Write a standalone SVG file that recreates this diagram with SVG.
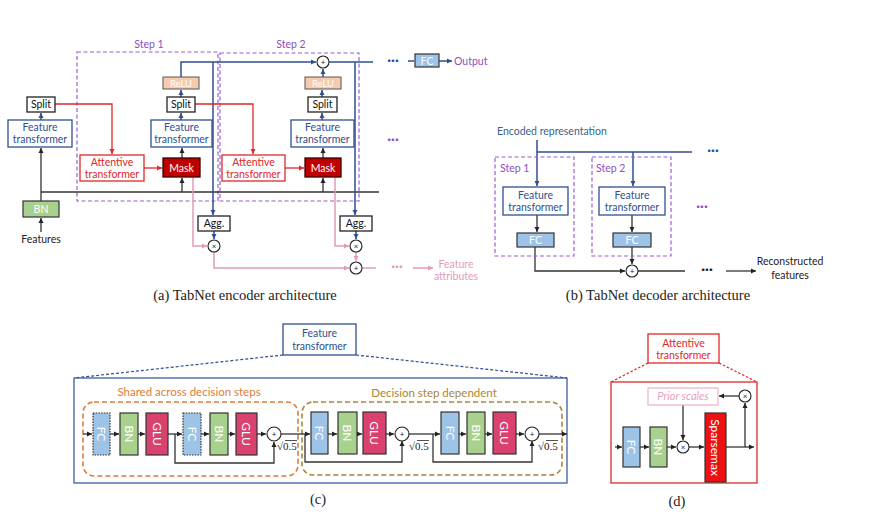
<svg xmlns="http://www.w3.org/2000/svg" width="871" height="519" viewBox="0 0 871 519">
<defs>
<marker id="ak" markerWidth="6" markerHeight="6" refX="5" refY="3" orient="auto" markerUnits="userSpaceOnUse"><path d="M0,0.5 L5,3 L0,5.5 Z" fill="#222"/></marker>
<marker id="ab" markerWidth="6" markerHeight="6" refX="5" refY="3" orient="auto" markerUnits="userSpaceOnUse"><path d="M0,0.5 L5,3 L0,5.5 Z" fill="#2f4f8f"/></marker>
<marker id="ar" markerWidth="6" markerHeight="6" refX="5" refY="3" orient="auto" markerUnits="userSpaceOnUse"><path d="M0,0.5 L5,3 L0,5.5 Z" fill="#e02828"/></marker>
<marker id="ap" markerWidth="6" markerHeight="6" refX="5" refY="3" orient="auto" markerUnits="userSpaceOnUse"><path d="M0,0.5 L5,3 L0,5.5 Z" fill="#e59abb"/></marker>
</defs>
<style>
text{font-family:Lato,"Liberation Sans",sans-serif;font-size:10.5px;}
.c{text-anchor:middle;}
.ft{fill:#fff;stroke:#2f4f8f;stroke-width:1.3;}
.ftt{fill:#2f4f8f;text-anchor:middle;}
.wb{fill:#fff;stroke:#222;stroke-width:1.3;}
.at{fill:#fff;stroke:#e02828;stroke-width:1.3;}
.att{fill:#e02828;text-anchor:middle;}
.mask{fill:#c00000;stroke:#3a0000;stroke-width:1.3;}
.relu{fill:#f8cbad;stroke:#555;stroke-width:1;}
.bn{fill:#a9d18e;stroke:#333;stroke-width:1.2;}
.fc{fill:#9dc3e6;stroke:#333;stroke-width:1.2;}
.fcd{fill:#9dc3e6;stroke:#333;stroke-width:1.2;stroke-dasharray:1.5 1.2;}
.glu{fill:#d9416f;stroke:#333;stroke-width:1.2;}
.sp{fill:#ee1111;stroke:#333;stroke-width:1.2;}
.wt{fill:#fff;text-anchor:middle;dominant-baseline:central;}
.wr{fill:#fff;text-anchor:middle;dominant-baseline:central;font-size:12px;}
.step{fill:none;stroke:#9a5fd0;stroke-width:1.2;stroke-dasharray:4 2.5;}
.stept{fill:#8a4fc4;}
.lk{fill:none;stroke:#333;stroke-width:1.3;}
.lb{fill:none;stroke:#2f4f8f;stroke-width:1.5;}
.lr{fill:none;stroke:#e02828;stroke-width:1.3;}
.lp{fill:none;stroke:#e59abb;stroke-width:1.5;}
.op{fill:#fff;stroke:#222;stroke-width:1.1;}
.ops{font-size:8px;text-anchor:middle;dominant-baseline:central;fill:#222;}
.cap{font-family:"Liberation Serif",serif;font-size:14.5px;fill:#222;text-anchor:middle;}
.sq{font-family:"Liberation Serif",serif;font-size:11px;fill:#222;}
.dots{font-size:14px;font-weight:bold;text-anchor:middle;}
</style>

<!-- ===== (a) Encoder ===== -->
<g id="step1-box"><rect class="step" x="77" y="52" width="141" height="149"/><text class="stept c" x="149" y="48">Step 1</text></g>
<g id="step2-box"><rect class="step" x="220" y="53" width="139" height="148"/><text class="stept c" x="291" y="48">Step 2</text></g>

<g id="enc-connectors">
<path class="lk" d="M41,192 H379"/>
<path class="lk" d="M41,232 V218" marker-end="url(#ak)"/>
<path class="lk" d="M41,201 V148" marker-end="url(#ak)"/>
<path class="lb" d="M41,120 V113" marker-end="url(#ab)"/>
<path class="lr" d="M55,104 H112 V154" marker-end="url(#ar)"/>
<path class="lr" d="M144,168 H162" marker-end="url(#ar)"/>
<path class="lk" d="M182,192 V178" marker-end="url(#ak)"/>
<path class="lk" d="M182,158 V148" marker-end="url(#ak)"/>
<path class="lb" d="M181,120 V113" marker-end="url(#ab)"/>
<path class="lb" d="M181,97 V90" marker-end="url(#ab)"/>
<path class="lb" d="M181,77 V62 H316" marker-end="url(#ab)"/>
<path class="lb" d="M213,62 V215" marker-end="url(#ab)"/>
<path class="lb" d="M214,231 V239" marker-end="url(#ab)"/>
<path class="lp" d="M193,177 V246 H207" marker-end="url(#ap)"/>
<path class="lp" d="M214,252 V268 H349" marker-end="url(#ap)"/>
<path class="lr" d="M195,104 H253 V154" marker-end="url(#ar)"/>
<path class="lr" d="M285,168 H304" marker-end="url(#ar)"/>
<path class="lk" d="M323,192 V178" marker-end="url(#ak)"/>
<path class="lk" d="M323,158 V148" marker-end="url(#ak)"/>
<path class="lb" d="M322,120 V113" marker-end="url(#ab)"/>
<path class="lb" d="M322,97 V90" marker-end="url(#ab)"/>
<path class="lb" d="M323,77 V69" marker-end="url(#ab)"/>
<path class="lb" d="M329,62 H373"/>
<path class="lb" d="M355,62 V215" marker-end="url(#ab)"/>
<path class="lb" d="M356,231 V239" marker-end="url(#ab)"/>
<path class="lp" d="M335,177 V246 H349" marker-end="url(#ap)"/>
<path class="lp" d="M356,252 V261" marker-end="url(#ap)"/>
<path class="lp" d="M362,268 H376"/>
<path class="lp" d="M413,268 H433" marker-end="url(#ap)"/>
<path class="lb" d="M408,61 H414"/>
<path class="lb" d="M439,61 H452" marker-end="url(#ab)"/>
</g>

<g id="features"><text class="c" x="41" y="243" fill="#222">Features</text></g>
<g id="bn0"><rect class="bn" x="23" y="201" width="36" height="16"/><text class="wt" x="41" y="209">BN</text></g>
<g id="ft0"><rect class="ft" x="8" y="120" width="64" height="27"/><text class="ftt" x="40" y="131">Feature</text><text class="ftt" x="40" y="143">transformer</text></g>
<g id="split0"><rect class="wb" x="27" y="97" width="28" height="15"/><text class="c" x="41" y="108" fill="#111">Split</text></g>

<g id="att1"><rect class="at" x="80" y="155" width="64" height="26"/><text class="att" x="112" y="166">Attentive</text><text class="att" x="112" y="178">transformer</text></g>
<g id="mask1"><rect class="mask" x="163" y="158" width="37" height="19"/><text class="wt" x="181.5" y="167.5">Mask</text></g>
<g id="ft1"><rect class="ft" x="151" y="120" width="61" height="27"/><text class="ftt" x="181.5" y="131">Feature</text><text class="ftt" x="181.5" y="143">transformer</text></g>
<g id="split1"><rect class="wb" x="167" y="97" width="28" height="15"/><text class="c" x="181" y="108" fill="#111">Split</text></g>
<g id="relu1"><rect class="relu" x="163" y="77" width="36" height="12"/><text class="wt" x="181" y="83" style="font-size:9.5px">ReLU</text></g>
<g id="agg1"><rect class="wb" x="198" y="216" width="32" height="15"/><text class="c" x="214" y="227" fill="#111">Agg.</text></g>
<g id="mul1"><circle class="op" cx="214" cy="246" r="6"/><text class="ops" x="214" y="246">×</text></g>

<g id="att2"><rect class="at" x="222" y="155" width="63" height="26"/><text class="att" x="253.5" y="166">Attentive</text><text class="att" x="253.5" y="178">transformer</text></g>
<g id="mask2"><rect class="mask" x="305" y="158" width="36" height="19"/><text class="wt" x="323" y="167.5">Mask</text></g>
<g id="ft2"><rect class="ft" x="291" y="120" width="63" height="27"/><text class="ftt" x="322.5" y="131">Feature</text><text class="ftt" x="322.5" y="143">transformer</text></g>
<g id="split2"><rect class="wb" x="308" y="97" width="29" height="15"/><text class="c" x="322.5" y="108" fill="#111">Split</text></g>
<g id="relu2"><rect class="relu" x="305" y="77" width="36" height="12"/><text class="wt" x="323" y="83" style="font-size:9.5px">ReLU</text></g>
<g id="add-top"><circle class="op" cx="323" cy="62" r="6"/><text class="ops" x="323" y="62">+</text></g>
<g id="agg2"><rect class="wb" x="340" y="216" width="32" height="15"/><text class="c" x="356" y="227" fill="#111">Agg.</text></g>
<g id="mul2"><circle class="op" cx="356" cy="246" r="6"/><text class="ops" x="356" y="246">×</text></g>
<g id="add-bot"><circle class="op" cx="356" cy="268" r="6"/><text class="ops" x="356" y="268">+</text></g>

<g id="enc-dots">
<text class="dots" x="393" y="65" fill="#2f4f8f">···</text>
<text class="dots" x="393" y="144" fill="#8a4fc4">···</text>
<text class="dots" x="397" y="271" fill="#e59abb">···</text>
</g>
<g id="fc-out"><rect class="fc" x="415" y="54" width="24" height="13"/><text class="wt" x="427" y="60.5">FC</text></g>
<g id="output"><text x="454" y="65" fill="#8a4fc4">Output</text></g>
<g id="feat-attr"><text class="c" x="456" y="268" fill="#e59abb">Feature</text><text class="c" x="456" y="280" fill="#e59abb">attributes</text></g>
<text class="cap" x="245" y="300">(a)  TabNet encoder architecture</text>

<!-- ===== (b) Decoder ===== -->
<g id="dec-connectors">
<path class="lb" d="M537,140 V186" marker-end="url(#ab)"/>
<path class="lb" d="M537,152 H692"/>
<path class="lb" d="M633,152 V186" marker-end="url(#ab)"/>
<path class="lk" d="M537,215 V232" marker-end="url(#ak)"/>
<path class="lk" d="M632,215 V232" marker-end="url(#ak)"/>
<path class="lk" d="M535,247 V271 H625" marker-end="url(#ak)"/>
<path class="lk" d="M632,247 V264" marker-end="url(#ak)"/>
<path class="lk" d="M638,271 H685"/>
<path class="lk" d="M726,271 H756" marker-end="url(#ak)"/>
</g>
<g id="enc-rep"><text x="497" y="135" fill="#3b5f8c">Encoded representation</text></g>
<g id="dstep1"><rect class="step" x="495" y="157" width="79" height="99"/><text class="stept" x="500" y="172">Step 1</text></g>
<g id="dstep2"><rect class="step" x="592" y="157" width="79" height="99"/><text class="stept" x="596" y="172">Step 2</text></g>
<g id="dft1"><rect class="ft" x="503" y="187" width="65" height="28"/><text class="ftt" x="535.5" y="199">Feature</text><text class="ftt" x="535.5" y="211">transformer</text></g>
<g id="dft2"><rect class="ft" x="599" y="187" width="66" height="28"/><text class="ftt" x="632" y="199">Feature</text><text class="ftt" x="632" y="211">transformer</text></g>
<g id="dfc1"><rect class="fc" x="517" y="233" width="37" height="14"/><text class="wt" x="535.5" y="240">FC</text></g>
<g id="dfc2"><rect class="fc" x="613" y="233" width="38" height="14"/><text class="wt" x="632" y="240">FC</text></g>
<g id="dadd"><circle class="op" cx="632" cy="271" r="6"/><text class="ops" x="632" y="271">+</text></g>
<g id="dec-dots">
<text class="dots" x="713" y="155" fill="#2f4f8f">···</text>
<text class="dots" x="702" y="211" fill="#8a4fc4">···</text>
<text class="dots" x="707" y="274" fill="#222">···</text>
</g>
<g id="recon"><text class="c" x="790" y="265" fill="#222">Reconstructed</text><text class="c" x="790" y="279" fill="#222">features</text></g>
<text class="cap" x="658" y="300">(b)  TabNet decoder architecture</text>

<!-- ===== (c) Feature transformer ===== -->
<g id="c-label"><rect class="ft" x="283" y="324" width="73" height="31"/><text class="ftt" x="319.5" y="337">Feature</text><text class="ftt" x="319.5" y="350">transformer</text></g>
<g id="c-zoomlines">
<path d="M283,355 L74,378 M356,355 L567,378" fill="none" stroke="#2f4f8f" stroke-width="1.2" stroke-dasharray="3 2"/>
</g>
<g id="c-frame"><rect x="74" y="378" width="493" height="105" fill="none" stroke="#3b5f9f" stroke-width="1.3"/></g>
<g id="shared"><rect x="83" y="402" width="215" height="74" rx="11" fill="none" stroke="#e07b39" stroke-width="1.6" stroke-dasharray="5 3"/><text class="c" x="189" y="396" fill="#e07b39" style="font-size:11.5px">Shared across decision steps</text></g>
<g id="dependent"><rect x="302" y="402" width="260" height="73" rx="11" fill="none" stroke="#a98535" stroke-width="1.6" stroke-dasharray="5 3"/><text class="c" x="434" y="397" fill="#a98535" style="font-size:11.5px">Decision step dependent</text></g>

<g id="c-connectors">
<path class="lk" d="M83,434 H92" marker-end="url(#ak)"/>
<path class="lk" d="M110,434 H119" marker-end="url(#ak)"/>
<path class="lk" d="M138,434 H145" marker-end="url(#ak)"/>
<path class="lk" d="M168,434 H182" marker-end="url(#ak)"/>
<path class="lk" d="M201,434 H209" marker-end="url(#ak)"/>
<path class="lk" d="M228,434 H235" marker-end="url(#ak)"/>
<path class="lk" d="M257,434 H266" marker-end="url(#ak)"/>
<path class="lk" d="M175,434 V463 H274 V442" marker-end="url(#ak)"/>
<path class="lk" d="M281,434 H310" marker-end="url(#ak)"/>
<path class="lk" d="M328,434 H337" marker-end="url(#ak)"/>
<path class="lk" d="M357,434 H362" marker-end="url(#ak)"/>
<path class="lk" d="M386,434 H394" marker-end="url(#ak)"/>
<path class="lk" d="M305,434 V462 H402 V441" marker-end="url(#ak)"/>
<path class="lk" d="M409,434 H440" marker-end="url(#ak)"/>
<path class="lk" d="M459,434 H466" marker-end="url(#ak)"/>
<path class="lk" d="M485,434 H492" marker-end="url(#ak)"/>
<path class="lk" d="M516,434 H524" marker-end="url(#ak)"/>
<path class="lk" d="M433,434 V462 H532 V441" marker-end="url(#ak)"/>
<path class="lk" d="M539,434 H567" marker-end="url(#ak)"/>
</g>

<g id="c-fc1"><rect class="fcd" x="93" y="413" width="17" height="42"/><text class="wr" transform="translate(101.5,434) rotate(90)">FC</text></g>
<g id="c-bn1"><rect class="bn" x="120" y="413" width="18" height="42"/><text class="wr" transform="translate(129,434) rotate(90)">BN</text></g>
<g id="c-glu1"><rect class="glu" x="146" y="413" width="22" height="42"/><text class="wr" transform="translate(157,434) rotate(90)">GLU</text></g>
<g id="c-fc2"><rect class="fcd" x="183" y="413" width="18" height="42"/><text class="wr" transform="translate(192,434) rotate(90)">FC</text></g>
<g id="c-bn2"><rect class="bn" x="210" y="413" width="18" height="42"/><text class="wr" transform="translate(219,434) rotate(90)">BN</text></g>
<g id="c-glu2"><rect class="glu" x="236" y="413" width="21" height="42"/><text class="wr" transform="translate(246.5,434) rotate(90)">GLU</text></g>
<g id="c-add1"><circle class="op" cx="274" cy="434" r="7"/><text class="ops" x="274" y="434">+</text><text class="sq" x="277" y="450">√0.5</text><path d="M285,440.5 H297" stroke="#222" stroke-width="0.8"/></g>
<g id="c-fc3"><rect class="fc" x="311" y="412" width="17" height="42"/><text class="wr" transform="translate(319.5,433) rotate(90)">FC</text></g>
<g id="c-bn3"><rect class="bn" x="338" y="412" width="19" height="42"/><text class="wr" transform="translate(347.5,433) rotate(90)">BN</text></g>
<g id="c-glu3"><rect class="glu" x="363" y="412" width="23" height="42"/><text class="wr" transform="translate(374.5,433) rotate(90)">GLU</text></g>
<g id="c-add2"><circle class="op" cx="402" cy="434" r="7"/><text class="ops" x="402" y="434">+</text><text class="sq" x="409" y="450">√0.5</text><path d="M417,440.5 H429" stroke="#222" stroke-width="0.8"/></g>
<g id="c-fc4"><rect class="fc" x="441" y="412" width="18" height="42"/><text class="wr" transform="translate(450,433) rotate(90)">FC</text></g>
<g id="c-bn4"><rect class="bn" x="467" y="412" width="18" height="42"/><text class="wr" transform="translate(476,433) rotate(90)">BN</text></g>
<g id="c-glu4"><rect class="glu" x="493" y="412" width="23" height="42"/><text class="wr" transform="translate(504.5,433) rotate(90)">GLU</text></g>
<g id="c-add3"><circle class="op" cx="532" cy="434" r="7"/><text class="ops" x="532" y="434">+</text><text class="sq" x="538" y="450">√0.5</text><path d="M546,440.5 H558" stroke="#222" stroke-width="0.8"/></g>
<text class="cap" x="318" y="504">(c)</text>

<!-- ===== (d) Attentive transformer ===== -->
<g id="d-label"><rect class="at" x="648" y="334" width="71" height="29"/><text class="att" x="683.5" y="347">Attentive</text><text class="att" x="683.5" y="359">transformer</text></g>
<g id="d-zoomlines"><path d="M648,363 L611,382 M719,363 L757,382" fill="none" stroke="#e02828" stroke-width="1.2" stroke-dasharray="2.5 1.8"/></g>
<g id="d-frame"><rect x="611" y="382" width="146" height="101" fill="none" stroke="#e02828" stroke-width="1.3"/></g>
<g id="d-connectors">
<path class="lk" d="M615,447 H622" marker-end="url(#ak)"/>
<path class="lk" d="M640,447 H649" marker-end="url(#ak)"/>
<path class="lk" d="M667,447 H676" marker-end="url(#ak)"/>
<path class="lk" d="M689,447 H704" marker-end="url(#ak)"/>
<path class="lk" d="M726,447 H754" marker-end="url(#ak)"/>
<path class="lk" d="M745,447 V403" marker-end="url(#ak)"/>
<path class="lk" d="M739,396 H719" marker-end="url(#ak)"/>
<path class="lk" d="M683,405 V440" marker-end="url(#ak)"/>
</g>
<g id="prior"><rect x="648" y="388" width="70" height="17" fill="#fff" stroke="#eab0c8" stroke-width="1.2"/><text class="c" x="683" y="400" fill="#e8a0bf" font-style="italic" style="font-size:11px">Prior scales</text></g>
<g id="d-mul-top"><circle class="op" cx="745" cy="396" r="6"/><text class="ops" x="745" y="396">×</text></g>
<g id="d-fc"><rect class="fc" x="623" y="427" width="17" height="40"/><text class="wr" transform="translate(631.5,447) rotate(90)">FC</text></g>
<g id="d-bn"><rect class="bn" x="650" y="427" width="17" height="40"/><text class="wr" transform="translate(658.5,447) rotate(90)">BN</text></g>
<g id="d-mul"><circle class="op" cx="683" cy="447" r="6"/><text class="ops" x="683" y="447">×</text></g>
<g id="d-sparsemax"><rect class="sp" x="705" y="413" width="21" height="69"/><text class="wr" transform="translate(715.5,447.5) rotate(90)">Sparsemax</text></g>
<text class="cap" x="677" y="506">(d)</text>
</svg>
